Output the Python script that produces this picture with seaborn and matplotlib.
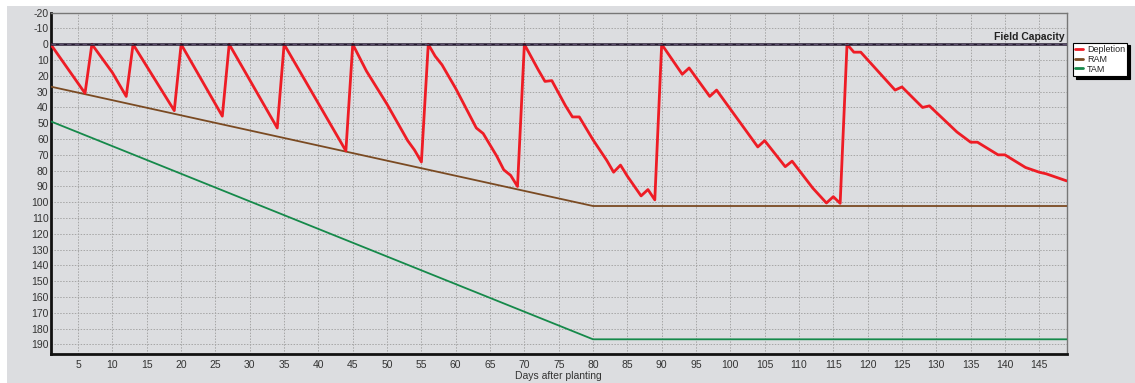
import matplotlib
matplotlib.use("Agg")
import matplotlib.pyplot as plt
import seaborn as sns
import pandas as pd
from matplotlib.patches import Rectangle
from matplotlib.ticker import MultipleLocator

# ---------------- data ----------------
depletion_days = [1, 6, 7, 10, 12, 13, 19, 20, 26, 27, 28, 34, 35, 44, 45, 47, 50, 53,
                  54, 55, 56, 57, 58, 60, 63, 64, 66, 67, 68, 69, 70, 72, 73, 74, 76,
                  77, 78, 80, 82, 83, 84, 85, 87, 88, 89, 90, 93, 94, 97, 98, 104,
                  105, 108, 109, 112, 114, 115, 116, 117, 118, 119, 124, 125, 128,
                  129, 133, 135, 136, 139, 140, 143, 145, 146, 149]
depletion_mm = [0, 31, 0, 18, 33, 0, 42, 0, 45.5, 0, 7.5, 53, 0, 67.5, 0, 17, 38, 61,
                67, 74.5, 0, 7.5, 13, 28, 53, 56.5, 71, 79.5, 83, 90, 0, 16, 23.5, 23,
                39, 46, 46, 60.5, 73.5, 81, 76.5, 83.5, 96, 92, 98.5, 0, 19, 15, 33,
                29, 65, 61, 77.5, 74, 91, 100.5, 96.5, 100.7, 0, 5, 5, 29, 27, 40,
                39, 55.5, 62, 62, 70, 70, 78, 81, 82, 86.5]
ram_days = [1, 80, 149]
ram_mm = [26.8, 102.4, 102.4]
tam_days = [1, 80, 149]
tam_mm = [48.8, 186.8, 186.8]
field_capacity_days = [1, 149]
field_capacity_mm = [0, 0]
x_ticks = list(range(5, 150, 5))
y_ticks = list(range(-20, 200, 10))

dep_df = pd.DataFrame({"day": depletion_days, "mm": depletion_mm})
ram_df = pd.DataFrame({"day": ram_days, "mm": ram_mm})
tam_df = pd.DataFrame({"day": tam_days, "mm": tam_mm})
fc_df = pd.DataFrame({"day": field_capacity_days, "mm": field_capacity_mm})

# ---------------- style ----------------
BG = "#dcdde0"
sns.set_style("white")
plt.rcParams["font.family"] = ["Liberation Sans", "DejaVu Sans"]
plt.rcParams["axes.unicode_minus"] = False

W, H = 1135, 383
fig = plt.figure(figsize=(W / 100, H / 100), dpi=100, facecolor="white")
fig.patches.append(Rectangle((7 / W, 0), 1, 1 - 6 / H, transform=fig.transFigure,
                             facecolor=BG, edgecolor="none", zorder=-10))

left, right, top, bottom = 50.7, 1066.7, 12.7, 354.3
ax = fig.add_axes([left / W, 1 - bottom / H, (right - left) / W, (bottom - top) / H])
ax.set_facecolor(BG)

RED = "#ee1c25"
BROWN = "#7a4a22"
GREEN = "#15894a"

sns.lineplot(data=tam_df, x="day", y="mm", ax=ax, color=GREEN, linewidth=1.3,
             label="TAM", zorder=3)
sns.lineplot(data=ram_df, x="day", y="mm", ax=ax, color=BROWN, linewidth=1.3,
             label="RAM", zorder=3)
sns.lineplot(data=dep_df, x="day", y="mm", ax=ax, color=RED, linewidth=2.0,
             label="Depletion", zorder=4)
sns.lineplot(data=fc_df, x="day", y="mm", ax=ax, color="#241a30", linewidth=1.8,
             legend=False, zorder=5)
ax.plot(field_capacity_days, field_capacity_mm, color="#5b4d6b", linewidth=0.8,
        linestyle=(0, (4, 3)), zorder=6)

ax.text(148.7, -1.2, "Field Capacity", ha="right", va="bottom", fontsize=7.5,
        fontweight="bold", color="#222222", zorder=7)

ax.set_xlim(1, 149)
ax.set_ylim(196.3, -20)
ax.set_xticks(x_ticks)
ax.set_yticks(y_ticks)
ax.xaxis.set_minor_locator(MultipleLocator(1))

ax.grid(True, which="major", color="#a6a6a6", linestyle=(0, (1.5, 1.5)), linewidth=0.7)
ax.set_axisbelow(True)

ax.tick_params(axis="both", which="major", labelsize=7.5, labelcolor="#333333",
               length=0, pad=1.5)
ax.tick_params(axis="x", which="major", pad=4)
ax.tick_params(axis="x", which="minor", direction="in", length=2, width=0.6,
               color="#8a8a8a")

ax.set_xlabel("Days after planting", fontsize=7.5, color="#333333", labelpad=1)
ax.set_ylabel("")

for side in ["left", "bottom"]:
    ax.spines[side].set_color("#111111")
    ax.spines[side].set_linewidth(2.0)
for side in ["top", "right"]:
    ax.spines[side].set_color("#777777")
    ax.spines[side].set_linewidth(1.0)

handles, labels = ax.get_legend_handles_labels()
order = [labels.index(n) for n in ["Depletion", "RAM", "TAM"]]
leg = ax.legend([handles[i] for i in order], [labels[i] for i in order],
                loc="upper left", bbox_to_anchor=(1073 / W, 1 - 42.5 / H),
                bbox_transform=fig.transFigure, fontsize=6.5, frameon=True,
                fancybox=False, shadow={"color": "black", "alpha": 1.0},
                handlelength=0.9, handletextpad=0.4, borderpad=0.25,
                labelspacing=0.1, borderaxespad=0)
leg.get_frame().set_edgecolor("black")
leg.get_frame().set_linewidth(0.8)
leg.get_frame().set_facecolor("white")
for line in leg.get_lines():
    line.set_linewidth(2.0)

fig.savefig("out.png", dpi=100, facecolor=fig.get_facecolor())
